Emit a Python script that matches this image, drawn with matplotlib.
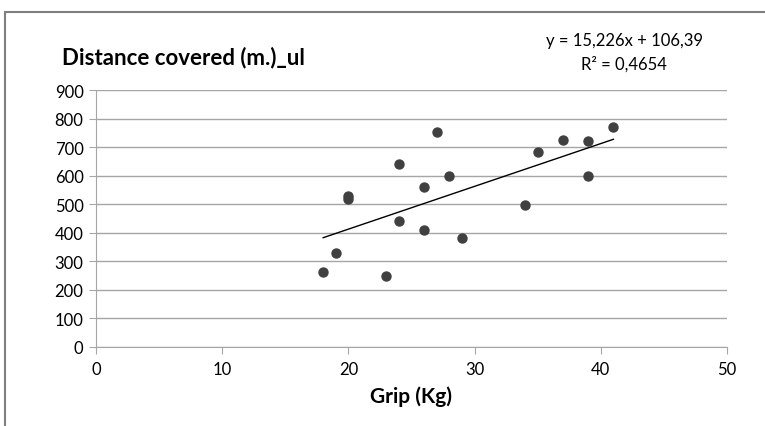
import numpy as np
import matplotlib
matplotlib.use("Agg")
from matplotlib import pyplot as plt
from matplotlib.patches import Rectangle

# Grip (Kg) vs distance covered (m.)
grip = [18, 19, 20, 20, 23, 24, 24, 26, 26, 27, 28, 29, 34, 35, 37, 39, 39, 41]
distance = [264, 328, 530, 518, 247, 440, 640, 562, 410, 752, 598, 381, 497, 682, 725, 720, 598, 770]
x_ticks = [0, 10, 20, 30, 40, 50]
y_ticks = [0, 100, 200, 300, 400, 500, 600, 700, 800, 900]

plt.rcParams['font.family'] = ['Lato', 'DejaVu Sans']

fig = plt.figure(figsize=(7.65, 4.27), dpi=100)
ax = fig.add_axes([96 / 765, 1 - 348 / 427, (727 - 96) / 765, (348 - 91) / 427])

# outer chart frame (clipped at right and bottom in the original)
fig.patches.append(Rectangle((5 / 765, -0.2), 1.2, 1 - 13 / 427 + 0.2,
                             transform=fig.transFigure, fill=False,
                             edgecolor='#7f7f7f', linewidth=1.5))

ax.scatter(grip, distance, s=42, color='#404040', zorder=3)

# linear trendline
k, b = np.polyfit(grip, distance, 1)
xs = np.array([min(grip), max(grip)])
ax.plot(xs, k * xs + b, color='black', linewidth=1, zorder=2)

ax.set_xlim(0, 50)
ax.set_ylim(0, 900)
ax.set_xticks(x_ticks)
ax.set_yticks(y_ticks)
ax.grid(axis='y', color='#a6a6a6', linewidth=1)
ax.set_axisbelow(True)
for s in ['top', 'right']:
    ax.spines[s].set_visible(False)
for s in ['left', 'bottom']:
    ax.spines[s].set_color('#a6a6a6')
ax.tick_params(axis='both', colors='#a6a6a6', labelcolor='black', labelsize=12, length=5)
ax.tick_params(axis='x', pad=5)
ax.tick_params(axis='y', pad=4)

ax.set_xlabel('Grip (Kg)', fontsize=15, fontweight='bold', labelpad=6)
fig.text(62 / 765, 1 - 58 / 427, 'Distance covered (m.)_ul', fontsize=16,
         fontweight='bold', va='center', ha='left')
fig.text(624 / 765, 1 - 41 / 427, 'y = 15,226x + 106,39', fontsize=12,
         va='center', ha='center')
fig.text(624 / 765, 1 - 64 / 427, 'R² = 0,4654', fontsize=12,
         va='center', ha='center')

fig.savefig('out.png', dpi=100)
